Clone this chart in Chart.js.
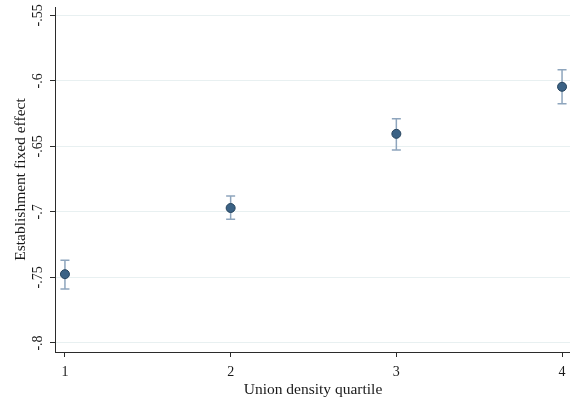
<!DOCTYPE html>
<html>
<head>
<meta charset="utf-8">
<script src="https://cdn.jsdelivr.net/npm/chart.js@4/dist/chart.umd.min.js"></script>
<style>
  html, body { margin: 0; padding: 0; background: #ffffff; }
  canvas { display: block; }
</style>
</head>
<body>
<canvas id="chart" width="570" height="404"></canvas>
<script>
// Union density quartiles and estimated establishment fixed effects with confidence bounds
const quartiles = [1, 2, 3, 4];
const effects = [-0.7475, -0.6970, -0.6404, -0.6045];
const ciLower = [-0.7589, -0.7056, -0.6527, -0.6175];
const ciUpper = [-0.7368, -0.6879, -0.6289, -0.5915];

const xTickLabels = ['1', '2', '3', '4'];
const yTicks = [-0.8, -0.75, -0.7, -0.65, -0.6, -0.55];
const yTickLabels = ['-.8', '-.75', '-.7', '-.65', '-.6', '-.55'];

const xTitle = 'Union density quartile';
const yTitle = 'Establishment fixed effect';

const FONT = '"Liberation Serif", "DejaVu Serif", serif';
const TEXT = '#1a1a1a';
const AXIS = '#2b2b2b';

// Vertical confidence-interval whiskers with caps
const errorBars = {
  id: 'errorBars',
  beforeDatasetsDraw(chart) {
    const { ctx, scales: { x, y } } = chart;
    ctx.save();
    ctx.strokeStyle = '#8ea5bd';
    ctx.lineWidth = 1.5;
    quartiles.forEach((q, i) => {
      const px = x.getPixelForValue(q);
      const top = y.getPixelForValue(ciUpper[i]);
      const bot = y.getPixelForValue(ciLower[i]);
      ctx.beginPath();
      ctx.moveTo(px, top); ctx.lineTo(px, bot);
      ctx.moveTo(px - 4.5, top); ctx.lineTo(px + 4.5, top);
      ctx.moveTo(px - 4.5, bot); ctx.lineTo(px + 4.5, bot);
      ctx.stroke();
    });
    ctx.restore();
  }
};

// Rotated y tick labels and axis titles
const axisText = {
  id: 'axisText',
  afterDraw(chart) {
    const { ctx, chartArea, scales: { y } } = chart;
    ctx.save();
    ctx.fillStyle = TEXT;
    ctx.textAlign = 'center';
    ctx.textBaseline = 'middle';
    ctx.font = '14px ' + FONT;
    yTicks.forEach((v, i) => {
      const py = y.getPixelForValue(v);
      ctx.save();
      ctx.translate(38, py);
      ctx.rotate(-Math.PI / 2);
      ctx.fillText(yTickLabels[i], 0, 0);
      ctx.restore();
    });
    ctx.font = '15.5px ' + FONT;
    ctx.save();
    ctx.translate(21, (chartArea.top + chartArea.bottom) / 2);
    ctx.rotate(-Math.PI / 2);
    ctx.fillText(yTitle, 0, 0);
    ctx.restore();
    ctx.fillText(xTitle, 313, 390);
    ctx.restore();
  }
};

new Chart(document.getElementById('chart'), {
  type: 'scatter',
  data: {
    datasets: [{
      data: quartiles.map((q, i) => ({ x: q, y: effects[i] })),
      backgroundColor: '#3b6285',
      borderColor: '#26445e',
      borderWidth: 1,
      pointRadius: 4.5,
      pointHoverRadius: 4.5
    }]
  },
  options: {
    responsive: false,
    animation: false,
    devicePixelRatio: 1,
    layout: { autoPadding: false, padding: { top: 7, right: 0, left: 0, bottom: 0 } },
    plugins: { legend: { display: false }, tooltip: { enabled: false } },
    scales: {
      x: {
        type: 'linear',
        min: 0.94,
        max: 4.048,
        afterBuildTicks(s) { s.ticks = quartiles.map(v => ({ value: v })); },
        afterFit(s) { s.height = 52; s.paddingLeft = 0; s.paddingRight = 0; },
        ticks: {
          autoSkip: false,
          maxRotation: 0,
          padding: 7,
          color: TEXT,
          font: { family: FONT, size: 14 },
          callback(v) { const i = quartiles.indexOf(v); return i >= 0 ? xTickLabels[i] : ''; }
        },
        grid: { drawOnChartArea: false, drawTicks: true, tickLength: 5, tickColor: AXIS },
        border: { display: true, color: AXIS, width: 1 }
      },
      y: {
        type: 'linear',
        min: -0.8069,
        max: -0.5436,
        afterBuildTicks(s) { s.ticks = yTicks.map(v => ({ value: v })); },
        afterFit(s) { s.width = 55; s.paddingTop = 0; s.paddingBottom = 0; },
        ticks: { display: false },
        grid: { color: '#e8f0f1', lineWidth: 1, drawTicks: true, tickLength: 5, tickColor: AXIS },
        border: { display: true, color: AXIS, width: 1 }
      }
    }
  },
  plugins: [errorBars, axisText]
});
</script>
</body>
</html>
